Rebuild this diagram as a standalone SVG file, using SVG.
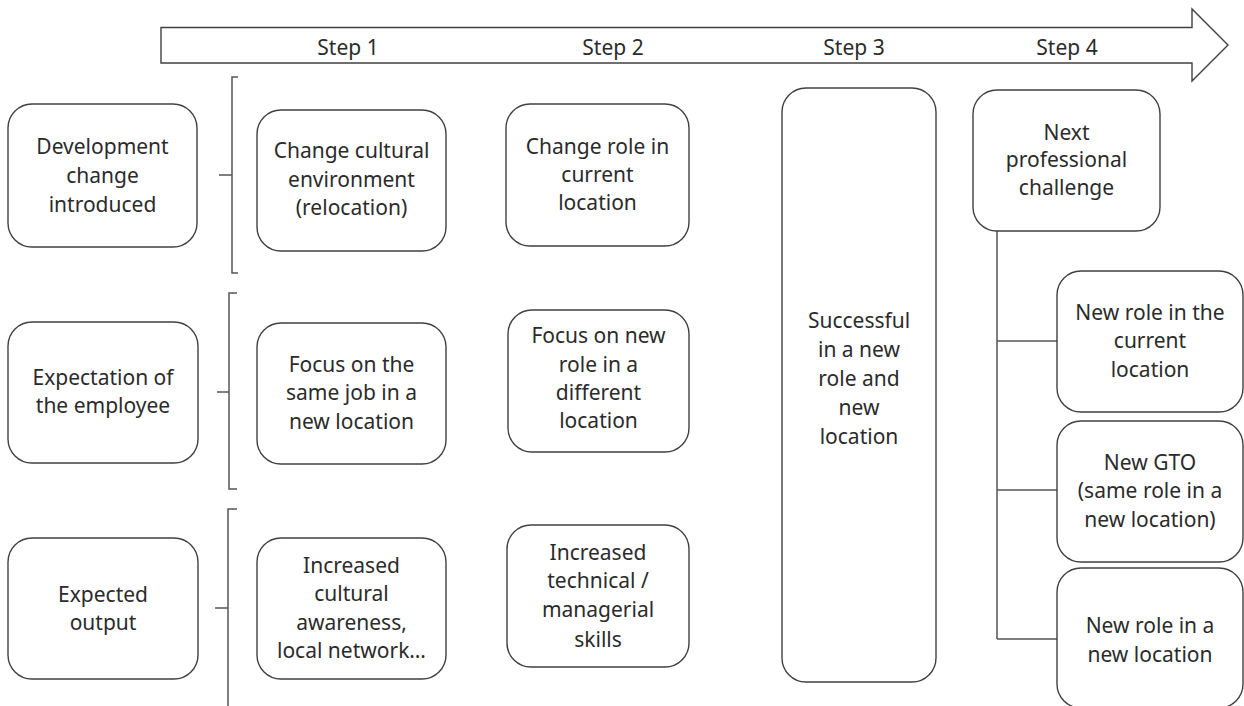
<svg xmlns="http://www.w3.org/2000/svg" width="1244" height="706" viewBox="0 0 1244 706">
<style>
.box{fill:#fff;stroke:#404040;stroke-width:1.4}
.ln{fill:none;stroke:#555;stroke-width:1.5}
text{font-family:"Noto Sans","Open Sans",sans-serif;font-size:21px;fill:#2b2b2b;text-anchor:middle}
</style>
<rect width="1244" height="706" fill="#fff"/>
<g id="timeline">
<polygon points="161,27.5 1192,27.5 1192,9 1228,45 1192,81 1192,63 161,63" fill="#fff" stroke="#404040" stroke-width="1.4"/>
<text x="348" y="55">Step 1</text>
<text x="613" y="55">Step 2</text>
<text x="854" y="55">Step 3</text>
<text x="1067" y="55">Step 4</text>
</g>
<g id="connectors">
<path class="ln" d="M238,77 H232 V273 H238 M219,175 H232"/>
<path class="ln" d="M237,293 H229 V489 H237 M217,392 H229"/>
<path class="ln" d="M237,509 H228 V706 M215,608 H228"/>
<path class="ln" d="M997,231 V639 M997,341 H1057 M997,490 H1057 M997,639 H1057"/>
</g>
<g id="row-label-1"><rect class="box" x="8" y="104" width="189" height="143" rx="24"/>
<text><tspan x="102.5" y="154">Development</tspan><tspan x="102.5" y="183">change</tspan><tspan x="102.5" y="212">introduced</tspan></text></g>
<g id="row-label-2"><rect class="box" x="8" y="322" width="190" height="141" rx="24"/>
<text><tspan x="103" y="385">Expectation of</tspan><tspan x="103" y="413">the employee</tspan></text></g>
<g id="row-label-3"><rect class="box" x="8" y="538" width="190" height="141" rx="24"/>
<text><tspan x="103" y="602">Expected</tspan><tspan x="103" y="630">output</tspan></text></g>
<g id="s1-r1"><rect class="box" x="257" y="110" width="189" height="141" rx="24"/>
<text><tspan x="351.5" y="158">Change cultural</tspan><tspan x="351.5" y="187">environment</tspan><tspan x="351.5" y="215">(relocation)</tspan></text></g>
<g id="s1-r2"><rect class="box" x="257" y="323" width="189" height="141" rx="24"/>
<text><tspan x="351.5" y="372">Focus on the</tspan><tspan x="351.5" y="400">same job in a</tspan><tspan x="351.5" y="429">new location</tspan></text></g>
<g id="s1-r3"><rect class="box" x="257" y="538" width="189" height="141" rx="24"/>
<text><tspan x="351.5" y="573">Increased</tspan><tspan x="351.5" y="601">cultural</tspan><tspan x="351.5" y="630">awareness,</tspan><tspan x="351.5" y="658">local network…</tspan></text></g>
<g id="s2-r1"><rect class="box" x="506" y="104" width="183" height="142" rx="24"/>
<text><tspan x="597.5" y="154">Change role in</tspan><tspan x="597.5" y="182">current</tspan><tspan x="597.5" y="210">location</tspan></text></g>
<g id="s2-r2"><rect class="box" x="508" y="310" width="181" height="142" rx="24"/>
<text><tspan x="598.5" y="343">Focus on new</tspan><tspan x="598.5" y="372">role in a</tspan><tspan x="598.5" y="400">different</tspan><tspan x="598.5" y="428">location</tspan></text></g>
<g id="s2-r3"><rect class="box" x="507" y="525" width="182" height="142" rx="24"/>
<text><tspan x="598" y="560">Increased</tspan><tspan x="598" y="588">technical /</tspan><tspan x="598" y="617">managerial</tspan><tspan x="598" y="647">skills</tspan></text></g>
<g id="s3"><rect class="box" x="782" y="88" width="154" height="594" rx="24"/>
<text><tspan x="859" y="328">Successful</tspan><tspan x="859" y="357">in a new</tspan><tspan x="859" y="386">role and</tspan><tspan x="859" y="415">new</tspan><tspan x="859" y="444">location</tspan></text></g>
<g id="s4"><rect class="box" x="973" y="90" width="187" height="141" rx="24"/>
<text><tspan x="1066.5" y="140">Next</tspan><tspan x="1066.5" y="167">professional</tspan><tspan x="1066.5" y="195">challenge</tspan></text></g>
<g id="s4-a"><rect class="box" x="1057" y="271" width="186" height="141" rx="24"/>
<text><tspan x="1150" y="320">New role in the</tspan><tspan x="1150" y="348">current</tspan><tspan x="1150" y="377">location</tspan></text></g>
<g id="s4-b"><rect class="box" x="1057" y="421" width="186" height="141" rx="24"/>
<text><tspan x="1150" y="470">New GTO</tspan><tspan x="1150" y="498">(same role in a</tspan><tspan x="1150" y="527">new location)</tspan></text></g>
<g id="s4-c"><rect class="box" x="1057" y="568" width="186" height="140" rx="24"/>
<text><tspan x="1150" y="633">New role in a</tspan><tspan x="1150" y="662">new location</tspan></text></g>
</svg>
